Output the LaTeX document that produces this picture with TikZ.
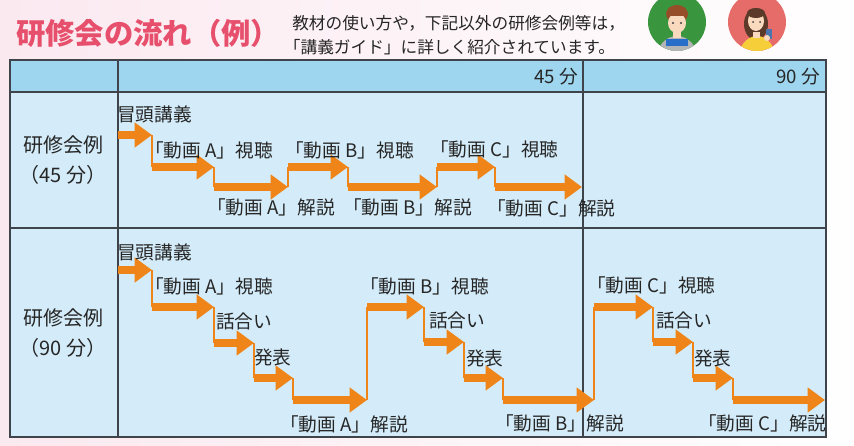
\documentclass[tikz,border=0pt]{standalone}
\usepackage{fontspec}
\setmainfont{Noto Sans CJK JP}
\usetikzlibrary{arrows.meta}

\definecolor{titlepink}{RGB}{231,80,108}
\definecolor{bgpink}{RGB}{251,233,240}
\definecolor{headblue}{RGB}{158,214,240}
\definecolor{cellblue}{RGB}{212,236,249}
\definecolor{flowor}{RGB}{239,133,24}
\definecolor{rulegray}{RGB}{62,68,74}
\definecolor{boygreen}{RGB}{58,150,62}
\definecolor{womanred}{RGB}{230,108,106}
\definecolor{skin}{RGB}{250,218,190}
\definecolor{hairbrown}{RGB}{150,78,40}
\definecolor{hairdark}{RGB}{92,58,42}
\definecolor{shirtgray}{RGB}{178,180,182}
\definecolor{shirtyellow}{RGB}{246,206,58}
\definecolor{laptop}{RGB}{40,110,200}

\begin{document}
\begin{tikzpicture}[x=0.75pt,y=-0.75pt,
    flow/.style={draw=flowor,line width=6pt,-{Triangle[length=13pt,width=18pt]}},
    stem/.style={draw=flowor,line width=1.3pt},
    cellrule/.style={draw=rulegray,line width=1pt},
    lbl/.style={anchor=west,inner sep=0pt,font=\fontsize{14}{17}\selectfont},
    rowlbl/.style={align=center,inner sep=0pt,font=\fontsize{15}{22}\selectfont},
    every node/.style={text=black!85}]
  \useasboundingbox (0,0) rectangle (854,446);
  \shade[left color=bgpink,right color=white!97!bgpink] (0,0) rectangle (854,446);

  % heading
  \node[anchor=west,inner sep=0pt,text=titlepink,font=\fontsize{22}{24}\selectfont\bfseries]
    (title) at (16,33) {研修会の流れ（例）};
  \node[anchor=west,inner sep=0pt,align=left,font=\fontsize{12.5}{18}\selectfont]
    (note) at (292,35) {教材の使い方や，下記以外の研修会例等は，\\
      \hspace*{-0.5em}「講義ガイド」に詳しく紹介されています。};

  % two people
  \fill[boygreen] (677,22) circle (29);
  \begin{scope}
    \clip (677,22) circle (29);
    \fill[shirtgray] (677,60) ellipse (21 and 24);
    \fill[skin] (673,30) rectangle (681,38);
    \fill[hairbrown] (677,14) ellipse (11 and 9);
    \fill[skin] (677,23) ellipse (9 and 10);
    \fill[hairbrown] (668,11) rectangle (686,16);
    \fill[black!75] (673,23) circle (1.1) (681,23) circle (1.1);
    \fill[laptop] (666,39) rectangle (688,46);
  \end{scope}
  \fill[womanred] (757,22) circle (29);
  \begin{scope}
    \clip (757,22) circle (29);
    \fill[hairdark] (756,24) ellipse (12 and 16);
    \fill[shirtyellow] (757,60) ellipse (19 and 24);
    \fill[skin] (753,32) rectangle (760,38);
    \fill[skin] (756,21) ellipse (8 and 10);
    \fill[hairdark] (756,13) ellipse (9 and 5);
    \fill[black!75] (753,22) circle (1) (760,22) circle (1);
    \fill[laptop!60!gray] (766,29) rectangle (772,39);
    \fill[skin] (767,38) circle (3);
  \end{scope}

  % table
  \fill[headblue] (10,60) rectangle (826,92);
  \fill[cellblue] (10,92) rectangle (826,437);
  \draw[cellrule] (10,60) rectangle (826,437);
  \draw[cellrule] (10,92) -- (826,92);
  \draw[cellrule] (10,228) -- (826,228);
  \draw[cellrule] (118,60) -- (118,437);
  \draw[cellrule] (583,60) -- (583,437);

  \node[anchor=east,inner sep=0pt,font=\fontsize{14}{16}\selectfont] (t45) at (578,77) {45 分};
  \node[anchor=east,inner sep=0pt,font=\fontsize{14}{16}\selectfont] (t90) at (820,77) {90 分};
  \node[rowlbl] (row45) at (63,160) {研修会例\\（45 分）};
  \node[rowlbl] (row90) at (63,333) {研修会例\\（90 分）};

  % 45-minute flow
  \coordinate (u1) at (118,135); \coordinate (t1) at (152,135);
  \coordinate (u2) at (152,167); \coordinate (t2) at (214,167);
  \coordinate (u3) at (214,187); \coordinate (t3) at (288,187);
  \coordinate (u4) at (288,167); \coordinate (t4) at (348,167);
  \coordinate (u5) at (348,187); \coordinate (t5) at (437,187);
  \coordinate (u6) at (437,167); \coordinate (t6) at (495,167);
  \coordinate (u7) at (495,187); \coordinate (t7) at (582,187);
  \foreach \i [remember=\i as \k (initially 1)] in {2,...,7}
    \draw[stem] (t\k) -- (u\i);
  \foreach \i in {1,...,7}
    \draw[flow] (u\i) -- (t\i);

  \node[lbl] (op45) at (117,114) {冒頭講義};
  \node[lbl] (av45) at (145,150) {「動画 A」視聴};
  \node[lbl] (ak45) at (207,207) {「動画 A」解説};
  \node[lbl] (bv45) at (285,150) {「動画 B」視聴};
  \node[lbl] (bk45) at (343,207) {「動画 B」解説};
  \node[lbl] (cv45) at (430,149) {「動画 C」視聴};
  \node[lbl] (ck45) at (487,208) {「動画 C」解説};

  % 90-minute flow
  \coordinate (v1) at (118,270);  \coordinate (w1) at (152,270);
  \coordinate (v2) at (152,307);  \coordinate (w2) at (214,307);
  \coordinate (v3) at (214,343);  \coordinate (w3) at (254,343);
  \coordinate (v4) at (254,378);  \coordinate (w4) at (293,378);
  \coordinate (v5) at (293,400);  \coordinate (w5) at (367,400);
  \coordinate (v6) at (367,307);  \coordinate (w6) at (424,307);
  \coordinate (v7) at (424,342);  \coordinate (w7) at (464,342);
  \coordinate (v8) at (464,378);  \coordinate (w8) at (503,378);
  \coordinate (v9) at (503,400);  \coordinate (w9) at (594,400);
  \coordinate (v10) at (594,307); \coordinate (w10) at (653,307);
  \coordinate (v11) at (653,342); \coordinate (w11) at (693,342);
  \coordinate (v12) at (693,378); \coordinate (w12) at (733,378);
  \coordinate (v13) at (733,400); \coordinate (w13) at (825,400);
  \foreach \i [remember=\i as \k (initially 1)] in {2,...,13}
    \draw[stem] (w\k) -- (v\i);
  \foreach \i in {1,...,13}
    \draw[flow] (v\i) -- (w\i);

  \node[lbl] (op90) at (117,252) {冒頭講義};
  \node[lbl] (av90) at (145,286) {「動画 A」視聴};
  \node[lbl] (ad90) at (216,321) {話合い};
  \node[lbl] (ap90) at (254,357) {発表};
  \node[lbl] (ak90) at (280,424) {「動画 A」解説};
  \node[lbl] (bv90) at (360,286) {「動画 B」視聴};
  \node[lbl] (bd90) at (429,320) {話合い};
  \node[lbl] (bp90) at (466,358) {発表};
  \node[lbl] (bk90) at (495,423) {「動画 B」解説};
  \node[lbl] (cv90) at (587,285) {「動画 C」視聴};
  \node[lbl] (cd90) at (656,320) {話合い};
  \node[lbl] (cp90) at (694,358) {発表};
  \node[lbl] (ck90) at (698,423) {「動画 C」解説};
\end{tikzpicture}
\end{document}
